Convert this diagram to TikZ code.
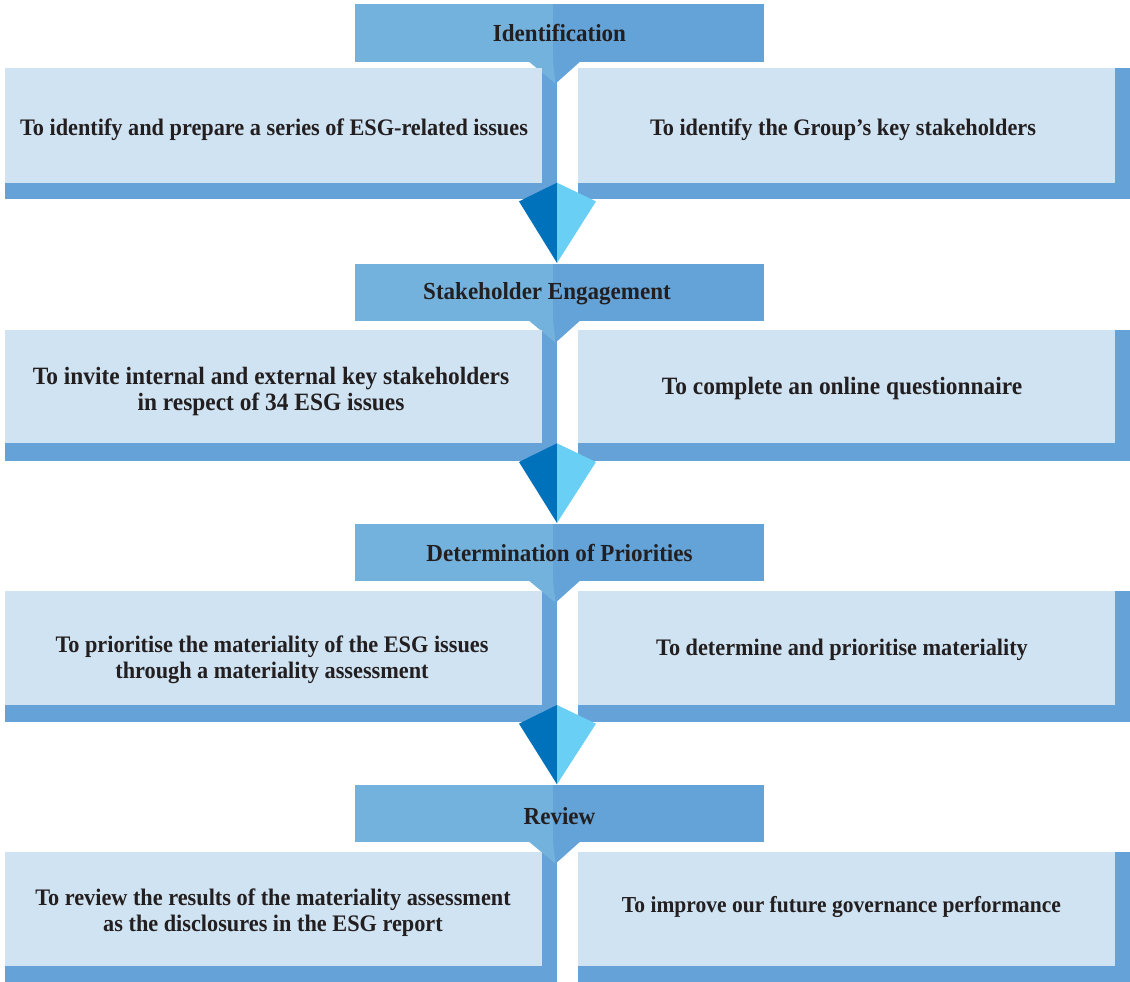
\documentclass[tikz,border=0pt]{standalone}
\usepackage{fontspec}
\setmainfont[FakeStretch=0.94]{Liberation Serif}

\definecolor{headL}{HTML}{74B2DE}
\definecolor{headR}{HTML}{64A3D7}
\definecolor{boxfill}{HTML}{D0E3F2}
\definecolor{stripblue}{HTML}{64A2D8}
\definecolor{gemL}{HTML}{0071BB}
\definecolor{gemR}{HTML}{69CFF5}
\definecolor{ink}{HTML}{231F20}

\tikzset{
  headtext/.style={font=\fontsize{24.5}{26}\selectfont\bfseries, text=ink, inner sep=0pt},
  bodytext/.style={font=\fontsize{23.7}{26}\selectfont\bfseries, text=ink, align=center, inner sep=0pt},
  bodylarge/.style={bodytext, font=\fontsize{24.9}{26}\selectfont\bfseries},
  bodysmall/.style={bodytext, font=\fontsize{22.9}{26}\selectfont\bfseries},
}

% One stage: header band with its pointer, the centre stem and the two panels.
% #1 header top, #2 header bottom, #3 panel top, #4 strip top, #5 strip bottom
\newcommand{\stagerow}[5]{%
  \fill[headL] (355,#1) rectangle (553,#2);
  \fill[headR] (553,#1) rectangle (764,#2);
  \fill[stripblue] (542,#2) rectangle (557,#4);
  \fill[headR] (553,#2) -- (580,#2) -- (555.5,#2+22) -- cycle;
  \fill[headL] (529,#2) -- (553,#2) -- (555.5,#2+22) -- cycle;
  % left panel
  \fill[boxfill] (5,#3) rectangle (542,#4);
  \fill[stripblue] (5,#4) rectangle (557,#5);
  % right panel
  \fill[boxfill] (578,#3) rectangle (1115,#4);
  \fill[stripblue] (1115,#3) rectangle (1130,#5);
  \fill[stripblue] (578,#4) rectangle (1130,#5);
}

% Two-tone gem linking consecutive stages. #1 top, #2 bottom tip
\newcommand{\stagegem}[2]{%
  \fill[gemL] (557,#1) -- (519,#1+18.7) -- (557,#2) -- cycle;
  \fill[gemR] (557,#1) -- (596,#1+18.7) -- (557,#2) -- cycle;
}

\begin{document}
\begin{tikzpicture}[x=1pt,y=-1pt]
  \useasboundingbox (0,0) rectangle (1130,982);

  \stagerow{4.3}{61.7}{68}{182.7}{198.7}
  \stagerow{264.3}{320.7}{330}{443.3}{460.7}
  \stagerow{524}{580.7}{590.7}{705}{721.7}
  \stagerow{785}{841.7}{851.7}{966}{982}

  \stagegem{182.7}{263}
  \stagegem{443.3}{523}
  \stagegem{705}{784.3}

  % stage 1
  \node[headtext] (h1) at (559.5,33) {Identification};
  \node[bodytext] (l1) at (274,130) {To identify and prepare a series of ESG-related issues};
  \node[bodytext] (r1) at (843,130) {To identify the Group’s key stakeholders};

  % stage 2
  \node[headtext] (h2) at (547,294) {Stakeholder Engagement};
  \node[bodylarge] (l2) at (271,392) {To invite internal and external key stakeholders\\in respect of 34 ESG issues};
  \node[bodylarge] (r2) at (842,389) {To complete an online questionnaire};

  % stage 3
  \node[headtext] (h3) at (559.5,553) {Determination of Priorities};
  \node[bodytext] (l3) at (272,660) {To prioritise the materiality of the ESG issues\\through a materiality assessment};
  \node[bodytext] (r3) at (842,650) {To determine and prioritise materiality};

  % stage 4
  \node[headtext] (h4) at (559.5,816) {Review};
  \node[bodytext] (l4) at (273,913) {To review the results of the materiality assessment\\as the disclosures in the ESG report};
  \node[bodysmall] (r4) at (841.5,907) {To improve our future governance performance};
\end{tikzpicture}
\end{document}
